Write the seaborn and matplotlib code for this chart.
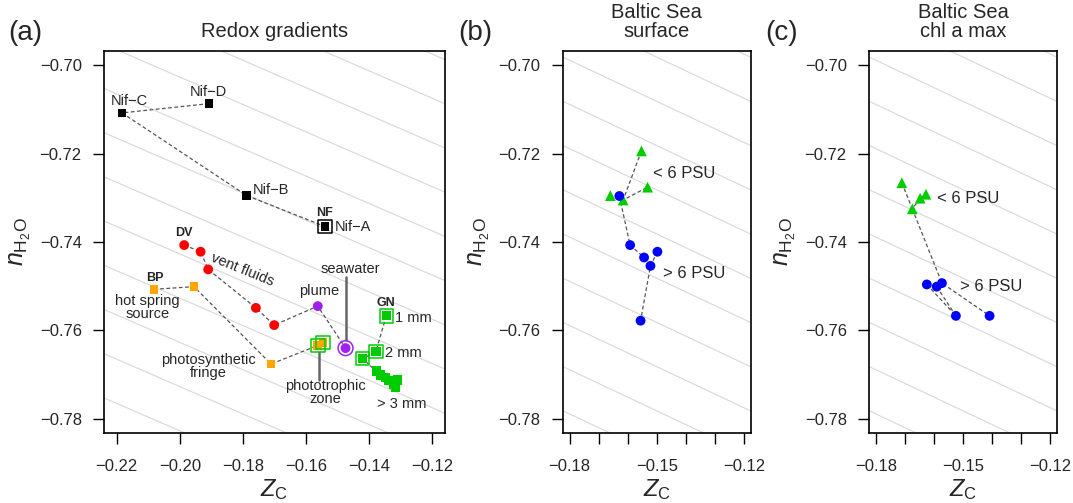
import numpy as np
import matplotlib
matplotlib.use("Agg")
import matplotlib.pyplot as plt
import seaborn as sns

sns.set_theme(style="white")
plt.rcParams["font.family"] = ["Liberation Sans", "DejaVu Sans"]
plt.rcParams["mathtext.fontset"] = "custom"
plt.rcParams["mathtext.rm"] = "Liberation Sans"
plt.rcParams["mathtext.it"] = "Liberation Sans:italic"

# background isolines: nH2O = iso_slope * ZC + offset
iso_slope = -0.31
iso_offsets = -0.8447 + 0.01 * np.arange(-3, 15)

# ---- panel (a): redox gradients ----
# Nif mats, in path order D, C, B, A
nif_zc = [-0.1907, -0.2183, -0.1788, -0.1540]
nif_nh2o = [-0.7087, -0.7108, -0.7295, -0.7365]
# Diamond-V vent fluids (DV), then plume and seawater
vent_zc = [-0.1986, -0.1934, -0.1910, -0.1759, -0.1701]
vent_nh2o = [-0.7407, -0.7422, -0.7462, -0.7549, -0.7588]
plume_zc, plume_nh2o = -0.1563, -0.7545
seawater_zc, seawater_nh2o = -0.1475, -0.7640
# Bison Pool (BP): source, source, fringe, phototrophic zone x2
bp_zc = [-0.2082, -0.1955, -0.1711, -0.1563, -0.1546]
bp_nh2o = [-0.7507, -0.7501, -0.7676, -0.7634, -0.7627]
# Guerrero Negro (GN) mat layers: 1 mm, 2 mm, 2 mm, > 3 mm
gn_zc = [-0.1346, -0.1379, -0.1421, -0.1378, -0.1365, -0.1349, -0.1337, -0.1324, -0.1311, -0.1317]
gn_nh2o = [-0.7567, -0.7648, -0.7664, -0.7692, -0.7701, -0.7707, -0.7714, -0.7721, -0.7712, -0.7728]
gn_boxed = 3

# ---- panel (b): Baltic Sea surface ----
b_lo_zc = [-0.1553, -0.1532, -0.1660, -0.1616]
b_lo_nh2o = [-0.7194, -0.7276, -0.7295, -0.7305]
b_hi_zc = [-0.1629, -0.1592, -0.1544, -0.1522, -0.1498, -0.1556]
b_hi_nh2o = [-0.7296, -0.7407, -0.7435, -0.7454, -0.7422, -0.7578]
b_paths = [[("lo", 0), ("lo", 3), ("lo", 1)],
           [("hi", 0), ("hi", 1), ("hi", 2)],
           [("hi", 4), ("hi", 3), ("hi", 5)]]

# ---- panel (c): Baltic Sea chl a max ----
c_lo_zc = [-0.1711, -0.1628, -0.1648, -0.1675]
c_lo_nh2o = [-0.7266, -0.7292, -0.7301, -0.7325]
c_hi_zc = [-0.1625, -0.1591, -0.1573, -0.1525, -0.1409]
c_hi_nh2o = [-0.7496, -0.7501, -0.7493, -0.7567, -0.7567]
c_paths = [[("lo", 0), ("lo", 3), ("lo", 2), ("lo", 1)],
           [("lo", 3), ("hi", 2), ("hi", 4)],
           [("hi", 0), ("hi", 3)],
           [("hi", 1), ("hi", 3)]]

yticks = [-0.70, -0.72, -0.74, -0.76, -0.78]
xticks_a = [-0.22, -0.20, -0.18, -0.16, -0.14, -0.12]
xticks_bc = [-0.18, -0.17, -0.16, -0.15, -0.14, -0.13, -0.12]
xlabels_bc = ["\u22120.18", "", "", "\u22120.15", "", "", "\u22120.12"]

RED, ORANGE, PURPLE, GREEN, BLUE = "#FF0000", "#FFA500", "#A020F0", "#00CD00", "#0000FF"
LINK = dict(color="#555555", lw=0.9, ls=(0, (3, 2)), zorder=2)
PTR = dict(color="#666666", lw=1.8, zorder=2)

W, H = 1073, 503
fig = plt.figure(figsize=(W / 100, H / 100), dpi=100)


def setup_axes(rect_px, xlim, xticks, xlabels):
    l, r, t, b = rect_px
    ax = fig.add_axes([l / W, 1 - b / H, (r - l) / W, (b - t) / H])
    ax.set_facecolor("white")
    for c in iso_offsets:
        ax.axline((0, c), slope=iso_slope, color="#d9d9d9", lw=0.85, zorder=0)
    ax.set_xlim(*xlim)
    ax.set_ylim(-0.7832, -0.6968)
    ax.set_xticks(xticks)
    ax.set_xticklabels(xlabels)
    ax.set_yticks(yticks)
    ax.set_yticklabels([f"{v:.2f}".replace("-", "\u2212") for v in yticks])
    ax.tick_params(axis="both", direction="out", length=8, width=1, color="black",
                   labelsize=12, left=True, bottom=True)
    ax.tick_params(axis="x", pad=11)
    ax.tick_params(axis="y", pad=8)
    for sp in ax.spines.values():
        sp.set_color("black")
        sp.set_linewidth(1.2)
    ax.set_xlabel(r"$Z_{\mathrm{C}}$", fontsize=17)
    ax.set_ylabel(r"$n_{\mathrm{H_2O}}$", fontsize=18)
    ax.xaxis.set_label_coords(0.5, -44 / (b - t))
    ax.yaxis.set_label_coords(-71 / (r - l), 0.5)
    return ax


def dots(ax, x, y, marker, color, s):
    sns.scatterplot(x=x, y=y, marker=marker, color=color, s=s, linewidth=0,
                    edgecolor="none", ax=ax, zorder=3, legend=False)


# ---------------- panel (a) ----------------
ax = setup_axes((104, 445, 51, 433), (-0.224, -0.116), xticks_a,
                [f"{v:.2f}".replace("-", "\u2212") for v in xticks_a])
ax.set_title("Redox gradients", fontsize=14.5, pad=10)

ax.plot(nif_zc, nif_nh2o, **LINK)
ax.plot(vent_zc + [plume_zc, seawater_zc], vent_nh2o + [plume_nh2o, seawater_nh2o], **LINK)
ax.plot(bp_zc, bp_nh2o, **LINK)
ax.plot(gn_zc, gn_nh2o, **LINK)

dots(ax, nif_zc, nif_nh2o, "s", "black", 38)
ax.scatter([nif_zc[3]], [nif_nh2o[3]], marker="s", s=95, facecolors="none",
           edgecolors="black", linewidths=1.1, zorder=3)
dots(ax, vent_zc, vent_nh2o, "o", RED, 50)
dots(ax, [plume_zc, seawater_zc], [plume_nh2o, seawater_nh2o], "o", PURPLE, 50)
ax.scatter([seawater_zc], [seawater_nh2o], marker="o", s=115, facecolors="none",
           edgecolors=PURPLE, linewidths=1.1, zorder=3)
dots(ax, bp_zc, bp_nh2o, "s", ORANGE, 38)
ax.scatter(bp_zc[3:], bp_nh2o[3:], marker="s", s=95, facecolors="none",
           edgecolors=GREEN, linewidths=1.1, zorder=3)
dots(ax, gn_zc, gn_nh2o, "s", GREEN, 45)
ax.scatter(gn_zc[:gn_boxed], gn_nh2o[:gn_boxed], marker="s", s=95, facecolors="none",
           edgecolors=GREEN, linewidths=1.1, zorder=3)

fs = 10.5
ax.text(-0.2161, -0.7081, "Nif\u2212C", fontsize=fs, ha="center", va="center")
ax.text(-0.1909, -0.7060, "Nif\u2212D", fontsize=fs, ha="center", va="center")
ax.text(-0.1769, -0.7283, "Nif\u2212B", fontsize=fs, ha="left", va="center")
ax.text(-0.1510, -0.7365, "Nif\u2212A", fontsize=fs, ha="left", va="center")
ax.text(-0.1541, -0.7335, "NF", fontsize=9, fontweight="bold", ha="center", va="center")
ax.text(-0.1986, -0.7380, "DV", fontsize=9, fontweight="bold", ha="center", va="center")
ax.text(-0.1802, -0.7462, "vent fluids", fontsize=fs, ha="center", va="center",
        rotation=-22, rotation_mode="anchor")
ax.text(-0.2079, -0.7481, "BP", fontsize=9, fontweight="bold", ha="center", va="center")
ax.text(-0.2102, -0.7549, "hot spring\nsource", fontsize=fs, ha="center", va="center",
        linespacing=0.9)
ax.text(-0.1560, -0.7510, "plume", fontsize=fs, ha="center", va="center")
ax.text(-0.1460, -0.7461, "seawater", fontsize=fs, ha="center", va="center")
ax.plot([seawater_zc, seawater_zc], [-0.7479, -0.7622], **PTR)
ax.text(-0.1347, -0.7539, "GN", fontsize=9, fontweight="bold", ha="center", va="center")
ax.text(-0.1317, -0.7573, "1 mm", fontsize=fs, ha="left", va="center")
ax.text(-0.1349, -0.7650, "2 mm", fontsize=fs, ha="left", va="center")
ax.text(-0.1298, -0.7766, "> 3 mm", fontsize=fs, ha="center", va="center")
ax.text(-0.1910, -0.7682, "photosynthetic\nfringe", fontsize=fs, ha="center",
        va="center", linespacing=0.9)
ax.text(-0.1539, -0.7741, "phototrophic\nzone", fontsize=fs, ha="center",
        va="center", linespacing=0.9)
ax.plot([-0.1558, -0.1558], [-0.7648, -0.7712], **PTR)


# ---------------- panels (b) and (c) ----------------
def baltic(rect_px, title, lo_x, lo_y, hi_x, hi_y, paths, lo_lab, hi_lab):
    ax = setup_axes(rect_px, (-0.1824, -0.1176), xticks_bc, xlabels_bc)
    ax.set_title(title, fontsize=14.5, pad=10, linespacing=1.0)
    pts = {"lo": (lo_x, lo_y), "hi": (hi_x, hi_y)}
    for path in paths:
        ax.plot([pts[g][0][i] for g, i in path], [pts[g][1][i] for g, i in path], **LINK)
    dots(ax, lo_x, lo_y, "^", GREEN, 60)
    dots(ax, hi_x, hi_y, "o", BLUE, 50)
    ax.text(lo_lab[0], lo_lab[1], "< 6 PSU", fontsize=12, ha="left", va="center")
    ax.text(hi_lab[0], hi_lab[1], "> 6 PSU", fontsize=12, ha="left", va="center")
    return ax


baltic((562.7, 751, 51, 433), "Baltic Sea\nsurface", b_lo_zc, b_lo_nh2o,
       b_hi_zc, b_hi_nh2o, b_paths, (-0.1514, -0.7244), (-0.1480, -0.7471))
baltic((869, 1057.3, 51, 433), "Baltic Sea\nchl a max", c_lo_zc, c_lo_nh2o,
       c_hi_zc, c_hi_nh2o, c_paths, (-0.1591, -0.7301), (-0.1510, -0.7501))

fig.text(8 / W, 1 - 33 / H, "(a)", fontsize=20, ha="left", va="center")
fig.text(458 / W, 1 - 33 / H, "(b)", fontsize=20, ha="left", va="center")
fig.text(765 / W, 1 - 33 / H, "(c)", fontsize=20, ha="left", va="center")

fig.savefig("out.png", dpi=100)
